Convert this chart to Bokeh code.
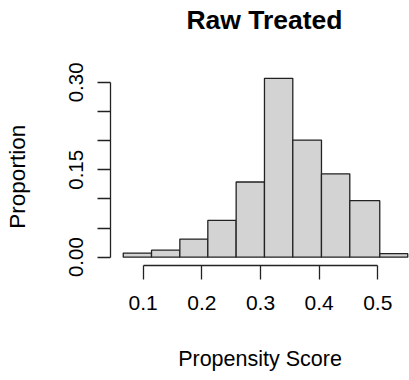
from bokeh.plotting import figure
from bokeh.models import FixedTicker, Range1d, ColumnDataSource
from bokeh.core.properties import value
from bokeh.embed import file_html
from bokeh.resources import INLINE

# Data
edges = [0.066, 0.1142, 0.1625, 0.2102, 0.2585, 0.3068, 0.3551, 0.4040, 0.4523, 0.5034, 0.5511]
proportions = [0.007, 0.012, 0.031, 0.063, 0.129, 0.307, 0.201, 0.143, 0.097, 0.006]
x_ticks = [0.1, 0.2, 0.3, 0.4, 0.5]
x_tick_labels = ["0.1", "0.2", "0.3", "0.4", "0.5"]
y_ticks = [0.0, 0.05, 0.10, 0.15, 0.20, 0.25, 0.30]
y_tick_labels = ["0.00", "", "", "0.15", "", "", "0.30"]
title_text = "Raw Treated"
x_label = "Propensity Score"
y_label = "Proportion"

# layout constants (title anchor in plot units, above the bars)
TITLE_X = 0.3068
TITLE_Y = 0.407
# non-breaking padding so the y label sits centred on the 0-0.30 axis span
Y_LABEL_PAD = "\u00a0" * 14

src = ColumnDataSource(dict(left=edges[:-1], right=edges[1:], top=proportions,
                            bottom=[0.0] * len(proportions)))

FONT = "Liberation Sans"

p = figure(width=409, height=380, output_backend="svg", toolbar_location=None,
           x_range=Range1d(0.04425, 0.5541), y_range=Range1d(-0.0143, 0.4406),
           min_border_left=110, min_border_right=0, min_border_top=0, min_border_bottom=115)
p.title = None

p.quad(left="left", right="right", top="top", bottom="bottom", source=src,
       fill_color="#D3D3D3", line_color="#222222", line_width=1.3)

p.text(x=[TITLE_X], y=[TITLE_Y], text=[title_text], text_font=value(FONT),
       text_font_size="26.5px", text_font_style="bold", text_color="#000000",
       text_align="center", text_baseline="alphabetic")

p.grid.visible = False
p.outline_line_color = None
p.background_fill_color = "white"
p.border_fill_color = "white"

xa = p.xaxis[0]
xa.ticker = FixedTicker(ticks=x_ticks)
xa.major_label_overrides = {t: l for t, l in zip(x_ticks, x_tick_labels)}
xa.bounds = (0.1, 0.5)
xa.axis_label = x_label
xa.axis_label_text_font = FONT
xa.axis_label_text_font_size = "21.5px"
xa.axis_label_text_font_style = "normal"
xa.axis_label_standoff = 34
xa.major_label_text_font = FONT
xa.major_label_text_font_size = "21px"
xa.major_label_standoff = 16
xa.major_tick_out = 14
xa.major_tick_in = 0
xa.minor_tick_out = 0
xa.minor_tick_in = 0
xa.axis_line_width = 1.3
xa.major_tick_line_width = 1.3
xa.axis_line_color = "#222222"
xa.major_tick_line_color = "#222222"
xa.major_label_text_color = "#000000"
xa.axis_label_text_color = "#000000"

ya = p.yaxis[0]
ya.ticker = FixedTicker(ticks=y_ticks)
ya.major_label_overrides = {t: l for t, l in zip(y_ticks, y_tick_labels)}
ya.bounds = (0.0, 0.30)
ya.axis_label = y_label + Y_LABEL_PAD
ya.axis_label_text_font = FONT
ya.axis_label_text_font_size = "22.5px"
ya.axis_label_text_font_style = "normal"
ya.axis_label_standoff = 37
ya.major_label_text_font = FONT
ya.major_label_text_font_size = "20.5px"
ya.major_label_orientation = "vertical"
ya.major_label_standoff = 14
ya.major_tick_out = 13
ya.major_tick_in = 0
ya.minor_tick_out = 0
ya.minor_tick_in = 0
ya.axis_line_width = 1.3
ya.major_tick_line_width = 1.3
ya.axis_line_color = "#222222"
ya.major_tick_line_color = "#222222"
ya.major_label_text_color = "#000000"
ya.axis_label_text_color = "#000000"

open("out.html", "w").write(file_html(p, INLINE))
